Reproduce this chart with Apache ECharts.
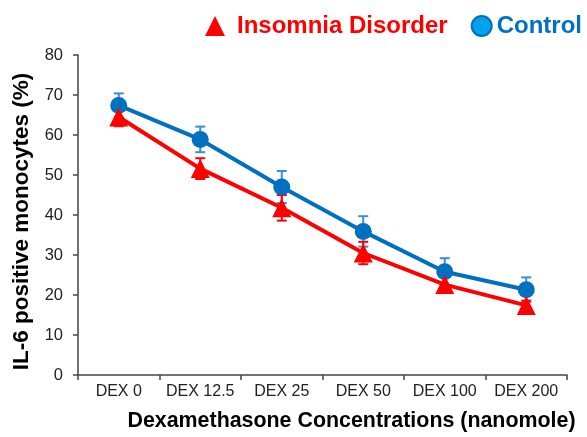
<!DOCTYPE html>
<html>
<head>
<meta charset="utf-8">
<script src="https://cdn.jsdelivr.net/npm/echarts@6/dist/echarts.min.js"></script>
<style>html,body{margin:0;padding:0;background:#fff}#c{width:587px;height:437px}</style>
</head>
<body>
<div id="c"></div>
<script>
var categories = ['DEX 0', 'DEX 12.5', 'DEX 25', 'DEX 50', 'DEX 100', 'DEX 200'];
var insomnia = [64.5, 51.6, 41.8, 30.5, 22.6, 17.4];
var insomniaErr = [2.3, 2.6, 3.2, 2.8, 2.0, 1.2];
var control = [67.4, 58.9, 47.0, 35.9, 25.8, 21.3];
var controlErr = [3.0, 3.2, 4.0, 3.8, 3.4, 3.1];
var yTicks = [0, 10, 20, 30, 40, 50, 60, 70, 80];

var FONT = "'Liberation Sans', Arial, sans-serif";
var RED = '#ff0000', BLUE = '#0070c0', BLUE_ERR = '#3a8ed6';

function errData(vals, errs) {
  return vals.map(function (v, i) { return [i, v - errs[i], v + errs[i]]; });
}
function errRender(color) {
  return function (params, api) {
    var x = api.value(0);
    var lo = api.coord([x, api.value(1)]);
    var hi = api.coord([x, api.value(2)]);
    var w = 5;
    var st = { stroke: color, lineWidth: 2 };
    return {
      type: 'group',
      children: [
        { type: 'line', shape: { x1: lo[0], y1: lo[1], x2: hi[0], y2: hi[1] }, style: st },
        { type: 'line', shape: { x1: hi[0] - w, y1: hi[1], x2: hi[0] + w, y2: hi[1] }, style: st },
        { type: 'line', shape: { x1: lo[0] - w, y1: lo[1], x2: lo[0] + w, y2: lo[1] }, style: st }
      ]
    };
  };
}

var chart = echarts.init(document.getElementById('c'));
chart.setOption({
  animation: false,
  backgroundColor: '#fff',
  textStyle: { fontFamily: FONT },
  grid: { left: 78, right: 20, top: 55, bottom: 57, containLabel: false },
  legend: {
    right: 0, top: 9,
    itemWidth: 20, itemHeight: 20, itemGap: 23,
    textStyle: { fontFamily: FONT, fontSize: 24, fontWeight: 'bold' },
    data: [
      { name: 'Insomnia Disorder', icon: 'triangle', itemStyle: { color: RED, borderWidth: 0 }, textStyle: { color: RED, padding: [0, 0, 0, 7] } },
      { name: 'Control', icon: 'circle', itemStyle: { color: '#00a2ea', borderColor: BLUE, borderWidth: 2 }, textStyle: { color: BLUE, padding: 0 } }
    ]
  },
  xAxis: {
    type: 'category',
    data: categories,
    boundaryGap: true,
    axisLine: { lineStyle: { color: '#454545', width: 1.5 } },
    axisTick: { show: true, length: 5, interval: 0, lineStyle: { color: '#454545', width: 1.5 } },
    axisLabel: { color: '#222', fontSize: 16, fontFamily: FONT, margin: 9, interval: 0 },
    name: 'Dexamethasone Concentrations (nanomole)',
    nameLocation: 'middle',
    nameGap: 36,
    nameTextStyle: { color: '#000', fontSize: 21.4, fontWeight: 'bold', fontFamily: FONT, padding: [0, 0, 0, 58] }
  },
  yAxis: {
    type: 'value',
    min: yTicks[0], max: yTicks[yTicks.length - 1], interval: yTicks[1] - yTicks[0],
    axisLine: { show: true, lineStyle: { color: '#454545', width: 1.5 } },
    axisTick: { show: true, length: 5, lineStyle: { color: '#454545', width: 1.5 } },
    splitLine: { show: false },
    axisLabel: { color: '#222', fontSize: 16.5, fontFamily: FONT, margin: 15 },
    name: 'IL-6 positive monocytes (%)',
    nameLocation: 'middle',
    nameGap: 40,
    nameTextStyle: { color: '#000', fontSize: 22.5, fontWeight: 'bold', fontFamily: FONT, padding: [0, 13, 0, 0] }
  },
  series: [
    {
      name: 'Control err', type: 'custom', z: 1,
      data: errData(control, controlErr),
      renderItem: errRender(BLUE_ERR),
      encode: { x: 0, y: [1, 2] }, silent: true
    },
    {
      name: 'Insomnia err', type: 'custom', z: 1,
      data: errData(insomnia, insomniaErr),
      renderItem: errRender(RED),
      encode: { x: 0, y: [1, 2] }, silent: true
    },
    {
      name: 'Control', type: 'line', z: 3,
      data: control,
      symbol: 'circle', symbolSize: 17,
      lineStyle: { color: BLUE, width: 4 },
      itemStyle: { color: BLUE }
    },
    {
      name: 'Insomnia Disorder', type: 'line', z: 4,
      data: insomnia,
      symbol: 'triangle', symbolSize: 19,
      lineStyle: { color: RED, width: 4 },
      itemStyle: { color: RED }
    }
  ]
});
</script>
</body>
</html>
